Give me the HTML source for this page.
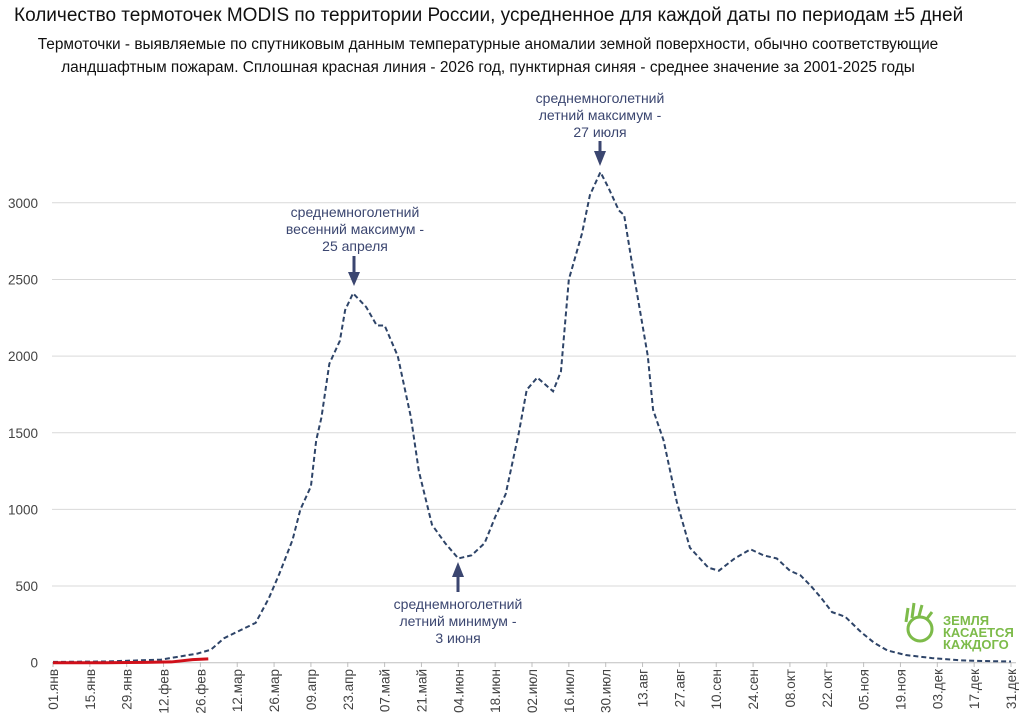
<!DOCTYPE html>
<html><head><meta charset="utf-8"><style>
body{margin:0;background:#fff;font-family:"Liberation Sans",sans-serif}
svg text{font-family:"Liberation Sans",sans-serif}
</style></head><body>
<svg id="c" width="1030" height="717" xmlns="http://www.w3.org/2000/svg">
<text x="14" y="21" font-size="19" fill="#111">Количество термоточек MODIS по территории России, усредненное для каждой даты по периодам ±5 дней</text>
<text x="488" y="49" font-size="15.4" fill="#111" text-anchor="middle">Термоточки - выявляемые по спутниковым данным температурные аномалии земной поверхности, обычно соответствующие</text>
<text x="488" y="72" font-size="15.4" fill="#111" text-anchor="middle">ландшафтным пожарам. Сплошная красная линия - 2026 год, пунктирная синяя - среднее значение за 2001-2025 годы</text>
<g id="grid"></g><g id="ax"></g><g id="lines"></g>
<g fill="#3b4670" font-size="14" text-anchor="middle">
<text x="355" y="217">среднемноголетний</text><text x="355" y="234">весенний максимум -</text><text x="355" y="251">25 апреля</text>
<text x="600" y="103">среднемноголетний</text><text x="600" y="120">летний максимум -</text><text x="600" y="137">27 июля</text>
<text x="458" y="609">среднемноголетний</text><text x="458" y="626">летний минимум -</text><text x="458" y="643">3 июня</text>
</g>
<g stroke="#3b4670" stroke-width="3" fill="#3b4670">
<line x1="354" y1="256" x2="354" y2="276"/><polygon points="348,272 360,272 354,286" stroke="none"/>
<line x1="600" y1="141" x2="600" y2="154"/><polygon points="594,151 606,151 600,166" stroke="none"/>
<line x1="458" y1="592" x2="458" y2="574"/><polygon points="452,577 464,577 458,562" stroke="none"/>
</g>
<g fill="#7dbb4a">
<circle cx="920" cy="629" r="12" fill="none" stroke="#7dbb4a" stroke-width="3"/>
<path d="M906 622 L908 608 M912 618 L914 603 M919 616 L922 605 M926 620 L932 612" stroke="#7dbb4a" stroke-width="3" fill="none"/>
<text x="943" y="625" font-size="13" font-weight="bold">ЗЕМЛЯ</text>
<text x="943" y="637" font-size="13" font-weight="bold">КАСАЕТСЯ</text>
<text x="943" y="649" font-size="13" font-weight="bold">КАЖДОГО</text>
</g>
</svg>
<script>
const yTicks=[0,500,1000,1500,2000,2500,3000];
const xLabels=["01.янв","15.янв","29.янв","12.фев","26.фев","12.мар","26.мар","09.апр","23.апр","07.май","21.май","04.июн","18.июн","02.июл","16.июл","30.июл","13.авг","27.авг","10.сен","24.сен","08.окт","22.окт","05.ноя","19.ноя","03.дек","17.дек","31.дек"];
const meanDays=[0,20,41,55,60,65,71,77,82,86,91,94,98,100,102,105,109,111,114,119,123,126,131,136,139,144,149,154,159,164,168,172,177,180,184,190,193,196,201,204,208,211,215,217,221,226,228,232,237,242,249,253,259,265,270,275,280,284,288,292,296,301,307,312,317,324,334,345,356,364];
const meanVals=[5,8,20,60,85,160,210,260,420,580,800,1000,1150,1450,1600,1950,2100,2300,2410,2320,2200,2200,2000,1600,1250,900,780,680,700,780,950,1100,1500,1780,1860,1770,1900,2500,2800,3050,3200,3100,2950,2920,2500,2000,1650,1450,1050,750,620,600,680,740,700,680,600,570,500,420,330,300,200,130,80,50,30,15,10,8];
const curDays=[0,20,35,45,53,59];
const curVals=[0,0,2,5,20,25];
const NS="http://www.w3.org/2000/svg";
const X=d=>53+d*(958/364), Y=v=>662.7-v*0.1533;
function mk(t,a,p){const e=document.createElementNS(NS,t);for(const k in a)e.setAttribute(k,a[k]);p.appendChild(e);return e;}
const grid=document.getElementById('grid'),ax=document.getElementById('ax'),lines=document.getElementById('lines');
yTicks.forEach(v=>{
 const l=mk('line',{x1:52,x2:1016,y1:Y(v),y2:Y(v),stroke:v?'#d9d9d9':'#bfbfbf','stroke-width':1},grid);
 
 
 const t=mk('text',{x:38,y:Y(v)+5,'font-size':13.5,fill:'#444','text-anchor':'end'},ax);
 t.textContent=v;
 
 
});
xLabels.forEach((s,i)=>{
 const x=X(i*14);
 mk('line',{x1:x,x2:x,y1:662,y2:667,stroke:'#bfbfbf'},ax);
 const t=mk('text',{x:0,y:0,'font-size':13.5,fill:'#444','text-anchor':'end',transform:`translate(${x+5},669) rotate(-90)`},ax);
 t.textContent=s;
 
 
});
const mp=mk('polyline',{points:meanDays.map((d,i)=>X(d)+','+Y(meanVals[i])).join(' '),fill:'none',stroke:'#2e4468','stroke-width':2,'stroke-dasharray':'5,3'},lines);


const cp=mk('polyline',{points:curDays.map((d,i)=>X(d)+','+Y(curVals[i])).join(' '),fill:'none',stroke:'#d0101a','stroke-width':3},lines);


</script>
</body></html>
